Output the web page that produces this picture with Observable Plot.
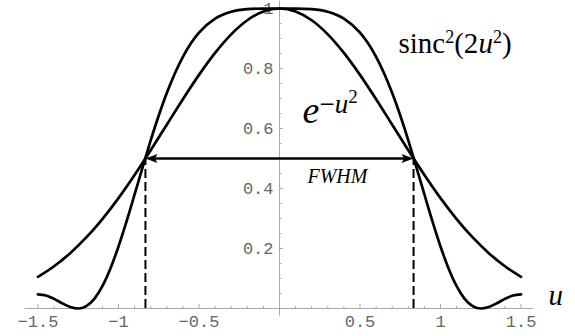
<!DOCTYPE html>
<html>
<head>
<meta charset="utf-8">
<script src="https://cdn.jsdelivr.net/npm/d3@7"></script>
<script src="https://cdn.jsdelivr.net/npm/@observablehq/plot@0.6"></script>
<style>
  html, body { margin: 0; padding: 0; background: #fff; }
</style>
</head>
<body>
<div id="chart"></div>
<script>
// Gaussian profile e^{-u^2}, sampled every 0.1
const uGauss = [-1.5, -1.4, -1.3, -1.2, -1.1, -1.0, -0.9, -0.8, -0.7, -0.6, -0.5, -0.4, -0.3, -0.2, -0.1,
  0, 0.1, 0.2, 0.3, 0.4, 0.5, 0.6, 0.7, 0.8, 0.9, 1.0, 1.1, 1.2, 1.3, 1.4, 1.5];
const gaussVals = [0.1054, 0.1409, 0.1845, 0.2369, 0.2982, 0.3679, 0.4449, 0.5273, 0.6126, 0.6977, 0.7788, 0.8521, 0.9139, 0.9608, 0.9900,
  1.0000, 0.9900, 0.9608, 0.9139, 0.8521, 0.7788, 0.6977, 0.6126, 0.5273, 0.4449, 0.3679, 0.2982, 0.2369, 0.1845, 0.1409, 0.1054];

// sinc^2(2u^2) profile, denser sampling on the flanks
const uSinc = [-1.5, -1.45, -1.4, -1.35, -1.3, -1.25, -1.2, -1.15, -1.1, -1.05, -1.0, -0.95, -0.9, -0.85, -0.8, -0.75, -0.7, -0.65, -0.6, -0.55, -0.5, -0.4, -0.3, -0.2, -0.1,
  0, 0.1, 0.2, 0.3, 0.4, 0.5, 0.55, 0.6, 0.65, 0.7, 0.75, 0.8, 0.85, 0.9, 0.95, 1.0, 1.05, 1.1, 1.15, 1.2, 1.25, 1.3, 1.35, 1.4, 1.45, 1.5];
const sincVals = [0.0472, 0.0432, 0.0321, 0.0175, 0.0049, 0.0000, 0.0081, 0.0324, 0.0745, 0.1334, 0.2067, 0.2904, 0.3801, 0.4714, 0.5602, 0.6432, 0.7182, 0.7835, 0.8387, 0.8838, 0.9194, 0.9663, 0.9893, 0.9979, 0.9999,
  1.0000, 0.9999, 0.9979, 0.9893, 0.9663, 0.9194, 0.8838, 0.8387, 0.7835, 0.7182, 0.6432, 0.5602, 0.4714, 0.3801, 0.2904, 0.2067, 0.1334, 0.0745, 0.0324, 0.0081, 0.0000, 0.0049, 0.0175, 0.0321, 0.0432, 0.0472];

// Full width at half maximum: both profiles cross 0.5 at u = ±0.8326
const fwhmU = [-0.8326, 0.8326];
const halfMax = 0.5;

// Axis ticks
const xMajor = [-1.5, -1, -0.5, 0.5, 1, 1.5];
const xMajorLabels = ["\u22121.5", "\u22121", "\u22120.5", "0.5", "1", "1.5"];
const xMinor = [-1.4, -1.3, -1.2, -1.1, -0.9, -0.8, -0.7, -0.6, -0.4, -0.3, -0.2, -0.1,
  0.1, 0.2, 0.3, 0.4, 0.6, 0.7, 0.8, 0.9, 1.1, 1.2, 1.3, 1.4];
const yMajor = [0.2, 0.4, 0.6, 0.8, 1];
const yMajorLabels = ["0.2", "0.4", "0.6", "0.8", "1"];
const yMinor = [0.05, 0.1, 0.15, 0.25, 0.3, 0.35, 0.45, 0.5, 0.55, 0.65, 0.7, 0.75, 0.85, 0.9, 0.95];

// Annotations
const sincLabel = "sinc\u00b2(2u\u00b2)";
const gaussLabel = "e\u2212u\u00b2";
const fwhmLabel = "FWHM";
const axisLabel = "u";

const gaussData = uGauss.map((u, i) => ({u, v: gaussVals[i]}));
const sincData = uSinc.map((u, i) => ({u, v: sincVals[i]}));

// Filled arrowheads with the tip at the anchor point
const headRight = {draw(ctx) { ctx.moveTo(0, 0); ctx.lineTo(-12, -4.5); ctx.lineTo(-9.5, 0); ctx.lineTo(-12, 4.5); ctx.closePath(); }};
const headLeft = {draw(ctx) { ctx.moveTo(0, 0); ctx.lineTo(12, -4.5); ctx.lineTo(9.5, 0); ctx.lineTo(12, 4.5); ctx.closePath(); }};

const axisGray = "#a8a8a8";
const labelGray = "#666";
const mono = "'Liberation Mono', 'DejaVu Sans Mono', monospace";
const serif = "'Liberation Serif', 'DejaVu Serif', serif";

const chart = Plot.plot({
  width: 575,
  height: 336,
  marginLeft: 24.6,
  marginRight: 41.6,
  marginTop: 0.5,
  marginBottom: 20.5,
  x: {domain: [-1.58, 1.58], axis: null},
  y: {domain: [-0.025, 1.025], axis: null},
  marks: [
    // axes through the origin
    Plot.ruleY([0], {stroke: axisGray, strokeWidth: 1}),
    Plot.ruleX([0], {stroke: axisGray, strokeWidth: 1}),
    // x ticks (pointing up)
    Plot.ruleX(xMajor, {x: d => d, y1: 0, y2: 0.0135, stroke: axisGray}),
    Plot.ruleX(xMinor, {x: d => d, y1: 0, y2: 0.007, stroke: axisGray}),
    // y ticks (pointing right)
    Plot.ruleY(yMajor, {y: d => d, x1: 0, x2: 0.025, stroke: axisGray}),
    Plot.ruleY(yMinor, {y: d => d, x1: 0, x2: 0.0145, stroke: axisGray}),
    // tick labels
    Plot.text(xMajor, {x: d => d, y: 0, text: (d, i) => xMajorLabels[i], dy: 13, lineAnchor: "middle",
      fontFamily: mono, fontSize: 17, fill: labelGray}),
    Plot.text(yMajor, {x: 0, y: d => d, text: (d, i) => yMajorLabels[i], dx: -6, textAnchor: "end", lineAnchor: "middle",
      fontFamily: mono, fontSize: 17, fill: labelGray}),
    // FWHM markers
    Plot.ruleX(fwhmU, {x: d => d, y1: 0, y2: halfMax, stroke: "#000", strokeWidth: 2, strokeDasharray: "9,4"}),
    Plot.ruleY([halfMax], {x1: fwhmU[0], x2: fwhmU[1], stroke: "#000", strokeWidth: 2.4, insetLeft: 8, insetRight: 8}),
    Plot.dot([fwhmU[0]], {x: d => d, y: halfMax, symbol: headLeft, fill: "#000", stroke: null}),
    Plot.dot([fwhmU[1]], {x: d => d, y: halfMax, symbol: headRight, fill: "#000", stroke: null}),
    // profiles
    Plot.line(gaussData, {x: "u", y: "v", curve: "monotone-x", stroke: "#000", strokeWidth: 2.7}),
    Plot.line(sincData, {x: "u", y: "v", curve: "monotone-x", stroke: "#000", strokeWidth: 2.7}),
    // annotations
    Plot.text([sincLabel], {x: 0.739, y: 0.853, text: d => d, textAnchor: "start", lineAnchor: "bottom",
      fontFamily: serif, fontSize: 29, fill: "#000"}),
    Plot.text([gaussLabel], {x: 0.143, y: 0.62, text: d => d, textAnchor: "start", lineAnchor: "bottom",
      fontFamily: serif, fontSize: 38, fill: "#000"}),
    Plot.text([fwhmLabel], {x: 0.36, y: 0.42, text: d => d, textAnchor: "middle", lineAnchor: "bottom",
      fontFamily: serif, fontSize: 20, fontStyle: "italic", fill: "#000"}),
    Plot.text([axisLabel], {x: 1.671, y: 0.013, text: d => d, textAnchor: "start", lineAnchor: "bottom",
      fontFamily: serif, fontSize: 29, fontStyle: "italic", fill: "#000"})
  ]
});

// Typeset the formula labels with superscripts and italic variables
const richParts = {
  [sincLabel]: [
    {t: "sinc"}, {t: "2", size: 18, shift: 10}, {t: "(2"}, {t: "u", italic: true}, {t: "2", size: 18, shift: 10}, {t: ")"}
  ],
  [gaussLabel]: [
    {t: "e", italic: true}, {t: "\u2212", size: 27, shift: 10}, {t: "u", size: 27, shift: 10, italic: true}, {t: "2", size: 19, shift: 20}
  ]
};
d3.select(chart).selectAll("text").each(function() {
  const spec = richParts[this.textContent];
  if (!spec) return;
  const el = d3.select(this);
  el.text(null);
  let prev = 0;
  for (const p of spec) {
    const s = el.append("tspan").text(p.t);
    const shift = p.shift || 0;
    if (shift !== prev) s.attr("dy", `${prev - shift}px`);
    prev = shift;
    if (p.size) s.attr("font-size", p.size);
    if (p.italic) s.attr("font-style", "italic");
  }
});

document.getElementById("chart").appendChild(chart);
</script>
</body>
</html>
